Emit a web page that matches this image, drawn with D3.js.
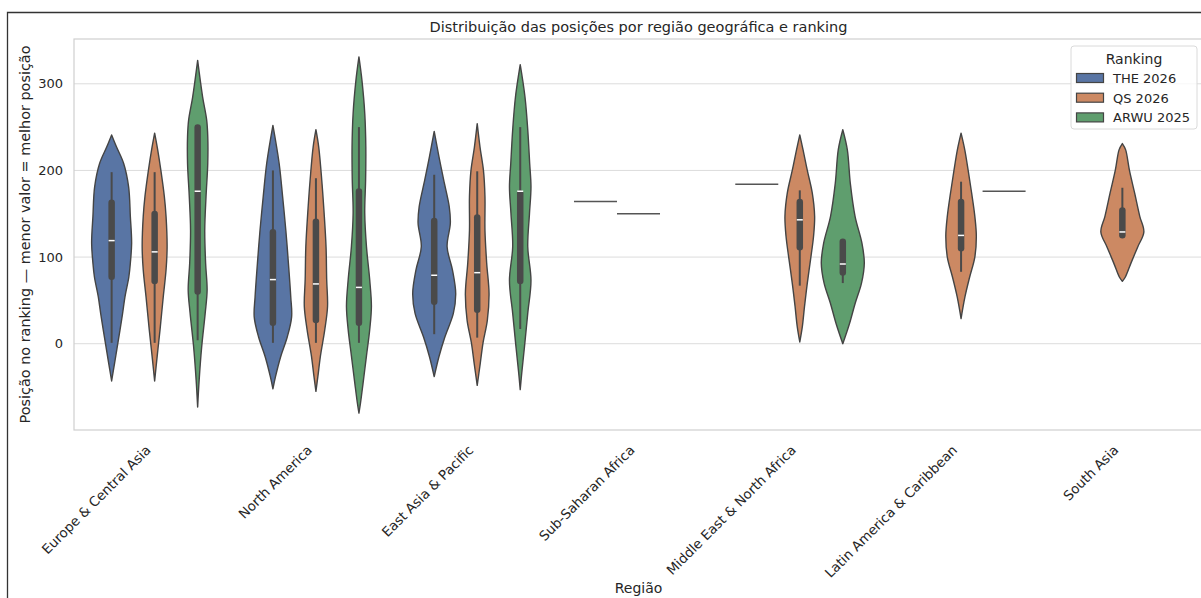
<!DOCTYPE html>
<html>
<head>
<meta charset="utf-8">
<script src="https://cdn.jsdelivr.net/npm/d3@7"></script>
<style>
  body { margin: 0; background: #fff; }
  svg { display: block; font-family: "DejaVu Sans", sans-serif; }
</style>
</head>
<body>
<svg id="chart" width="1201" height="598"></svg>
<script>
// regions on the x axis, ranking systems as hue
const regions = ["Europe & Central Asia", "North America", "East Asia & Pacific",
  "Sub-Saharan Africa", "Middle East & North Africa", "Latin America & Caribbean", "South Asia"];
const rankings = ["THE 2026", "QS 2026", "ARWU 2025"];
const yTicks = [0, 100, 200, 300];

// violin outlines per region: [position, relative density], null = no violin
const theShape = [
  [[-43,0],[-22,.14],[16,.39],[35,.51],[54,.62],[77,.8],[93,.87],[116,.93],[147,.87],[181,.79],[208,.56],[227,.23],[241,0]],
  [[-52,0],[-38,.12],[-15,.36],[8,.67],[31,.87],[54,.83],[93,.72],[131,.6],[170,.45],[208,.29],[252,0]],
  [[-38,0],[-15,.22],[8,.5],[35,.89],[58,1],[85,.85],[112,.6],[139,.75],[158,.7],[189,.44],[216,.22],[245,0]],
  null, null, null, null
];
const qsShape = [
  [[-43,0],[-14,.12],[16,.25],[54,.4],[85,.53],[112,.58],[147,.53],[170,.45],[200,.29],[224,.14],[243,0]],
  [[-55,0],[-38,.09],[-14,.21],[16,.41],[43,.54],[74,.5],[112,.47],[151,.38],[189,.27],[227,.13],[247,0]],
  [[-48,0],[-23,.14],[1,.27],[27,.47],[58,.55],[93,.44],[131,.36],[170,.36],[200,.29],[227,.13],[254,0]],
  null,
  [[2,0],[20,.12],[43,.22],[70,.35],[97,.5],[124,.64],[147,.69],[174,.58],[200,.35],[224,.15],[241,0]],
  [[29,0],[54,.18],[77,.4],[100,.64],[124,.71],[147,.64],[174,.49],[200,.33],[224,.17],[243,0]],
  [[72,0],[77,.14],[93,.4],[112,.72],[129,1],[147,.81],[174,.57],[200,.33],[224,.15],[231,0]]
];
const arwuShape = [
  [[-73,0],[-42,.07],[-3,.19],[35,.35],[62,.44],[93,.37],[131,.33],[170,.39],[208,.47],[239,.47],[258,.42],[285,.23],[327,0]],
  [[-80,0],[-69,.07],[-46,.19],[-14,.35],[16,.5],[43,.58],[74,.5],[112,.35],[151,.27],[189,.31],[227,.32],[266,.27],[304,.14],[331,0]],
  [[-53,0],[-34,.07],[-3,.2],[35,.35],[73,.5],[112,.35],[150,.43],[181,.5],[208,.44],[247,.35],[285,.22],[322,0]],
  null,
  [[0,0],[23,.31],[47,.58],[70,.87],[93,1],[116,.89],[147,.57],[185,.35],[224,.21],[247,0]],
  null, null
];

// inner boxes: [low whisker, q1, median, q3, high whisker]
const theBox = [[1,75,119,165,198], [1,22,74,131,200], [11,46,79,144,195], null, null, null, null];
const qsBox = [[1,70,106,152,198], [1,25,69,143,191], [7,37,82,148,199], null, [67,109,143,166,177], [83,108,125,166,187], [123,123,129,156,180]];
const arwuBox = [[4,58,176,252,252], [1,22,65,178,250], [17,70,176,176,250], null, [70,80,92,120,120], null, null];

// groups with a single university: drawn as a flat line
const singleValues = [
  ["Sub-Saharan Africa", "THE 2026", 164],
  ["Sub-Saharan Africa", "QS 2026", 150],
  ["Middle East & North Africa", "THE 2026", 184],
  ["Latin America & Caribbean", "ARWU 2025", 176]
];

const colors = ["#5975a4", "#cc8963", "#5f9e6e"];
const textColor = "#262626";
const lineColor = "#444";

const svg = d3.select("#chart");
const plot = {left: 74, right: 1203, top: 39, bottom: 430};

const x = d3.scaleBand(regions, [plot.left, plot.right]);
const hue = d3.scaleBand(rankings, [-0.4 * x.bandwidth(), 0.4 * x.bandwidth()]);
const y = d3.scaleLinear([-99.6, 351.7], [plot.bottom, plot.top]);
const w = d3.scaleLinear([0, 1], [0, hue.bandwidth() / 2]);
const color = d3.scaleOrdinal(rankings, colors);

const center = (r, k) => x(r) + x.bandwidth() / 2 + hue(k) + hue.bandwidth() / 2;

// outer frame of the screenshot
svg.append("path")
  .attr("d", "M7.5,598V12.5H1201")
  .attr("fill", "none").attr("stroke", "#333").attr("stroke-width", 1.3);

// grid
svg.append("g").selectAll("line").data(yTicks).join("line")
  .attr("x1", plot.left).attr("x2", plot.right)
  .attr("y1", d => y(d)).attr("y2", d => y(d))
  .attr("stroke", "#dcdcdc").attr("stroke-width", 1);

svg.append("rect")
  .attr("x", plot.left).attr("y", plot.top)
  .attr("width", plot.right - plot.left).attr("height", plot.bottom - plot.top)
  .attr("fill", "none").attr("stroke", "#cfcfcf").attr("stroke-width", 1.2);

// y axis
const yAxis = svg.append("g")
  .attr("transform", `translate(${plot.left},0)`)
  .call(d3.axisLeft(y).tickValues(yTicks).tickSize(0).tickPadding(11));
yAxis.select(".domain").remove();
yAxis.selectAll("text").attr("fill", textColor).style("font-size", "13px")
  .style("font-family", "DejaVu Sans");

// x axis
const xAxis = svg.append("g")
  .attr("transform", `translate(0,${plot.bottom})`)
  .call(d3.axisBottom(x).tickSize(0));
xAxis.select(".domain").remove();
xAxis.selectAll("text")
  .attr("fill", textColor).style("font-size", "13.4px").style("font-family", "DejaVu Sans")
  .attr("text-anchor", "end").attr("dy", null).attr("y", 0)
  .attr("transform", "translate(-3,21) rotate(-45)");

const violin = d3.area()
  .curve(d3.curveCatmullRom)
  .y(d => y(d[0]));

const series = [
  {key: "THE 2026", shapes: theShape, boxes: theBox},
  {key: "QS 2026", shapes: qsShape, boxes: qsBox},
  {key: "ARWU 2025", shapes: arwuShape, boxes: arwuBox}
];

const marks = svg.append("g");
series.forEach(s => {
  regions.forEach((r, i) => {
    const shape = s.shapes[i];
    if (!shape) return;
    const cx = center(r, s.key);
    marks.append("path")
      .datum(shape)
      .attr("d", violin.x0(d => cx - w(d[1])).x1(d => cx + w(d[1])))
      .attr("fill", color(s.key))
      .attr("stroke", lineColor).attr("stroke-width", 1.4)
      .attr("stroke-linejoin", "round");

    const b = s.boxes[i];
    marks.append("line")
      .attr("x1", cx).attr("x2", cx).attr("y1", y(b[0])).attr("y2", y(b[4]))
      .attr("stroke", "#4a4a4a").attr("stroke-width", 2);
    marks.append("line")
      .attr("x1", cx).attr("x2", cx).attr("y1", y(b[1]) - 2).attr("y2", y(b[3]) + 2)
      .attr("stroke", "#4a4a4a").attr("stroke-width", 6.5).attr("stroke-linecap", "round");
    marks.append("line")
      .attr("x1", cx - 3).attr("x2", cx + 3).attr("y1", y(b[2])).attr("y2", y(b[2]))
      .attr("stroke", "#fff").attr("stroke-width", 1.5);
  });
});

marks.selectAll(".single").data(singleValues).join("line")
  .attr("class", "single")
  .attr("x1", d => center(d[0], d[1]) - hue.bandwidth() / 2)
  .attr("x2", d => center(d[0], d[1]) + hue.bandwidth() / 2)
  .attr("y1", d => y(d[2])).attr("y2", d => y(d[2]))
  .attr("stroke", "#555").attr("stroke-width", 1.5);

// titles
svg.append("text")
  .attr("x", (plot.left + plot.right) / 2).attr("y", 32)
  .attr("text-anchor", "middle").attr("fill", textColor).style("font-size", "14.5px")
  .text("Distribuição das posições por região geográfica e ranking");

svg.append("text")
  .attr("transform", `translate(30,${(plot.top + plot.bottom) / 2}) rotate(-90)`)
  .attr("text-anchor", "middle").attr("fill", textColor).style("font-size", "14.4px")
  .text("Posição no ranking — menor valor = melhor posição");

svg.append("text")
  .attr("x", (plot.left + plot.right) / 2).attr("y", 593)
  .attr("text-anchor", "middle").attr("fill", textColor).style("font-size", "14px")
  .text("Região");

// legend
const legend = svg.append("g").attr("transform", "translate(1071,46)");
legend.append("rect")
  .attr("width", 126).attr("height", 83).attr("rx", 3)
  .attr("fill", "#fff").attr("fill-opacity", 0.8)
  .attr("stroke", "#dadada");
legend.append("text")
  .attr("x", 63).attr("y", 18).attr("text-anchor", "middle")
  .attr("fill", textColor).style("font-size", "14px").text("Ranking");
const rows = legend.selectAll(".row").data(rankings).join("g")
  .attr("class", "row")
  .attr("transform", (d, i) => `translate(0,${32 + i * 19.7})`);
rows.append("rect")
  .attr("x", 5.5).attr("y", -4.5).attr("width", 27).attr("height", 9)
  .attr("fill", d => color(d)).attr("stroke", lineColor).attr("stroke-width", 1.2);
rows.append("text")
  .attr("x", 42).attr("y", 5)
  .attr("fill", textColor).style("font-size", "13px").text(d => d);
</script>
</body>
</html>
